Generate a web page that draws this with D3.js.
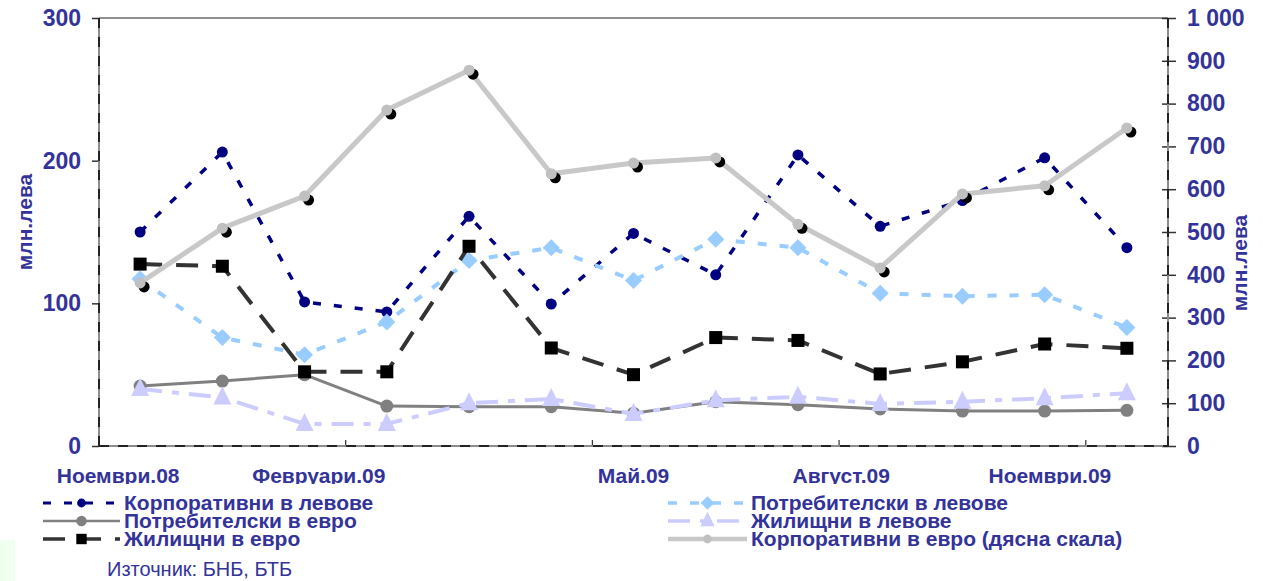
<!DOCTYPE html>
<html><head><meta charset="utf-8">
<script src="https://cdn.jsdelivr.net/npm/d3@7"></script>
<style>body{margin:0;background:#fff}svg{display:block}text{font-family:"Liberation Sans",Arial,sans-serif}</style>
</head><body><svg id="c" width="1263" height="581"></svg>
<script>
const categories = ["Ноември.08","Декември.08","Януари.09","Февруари.09","Март.09","Април.09","Май.09","Юни.09","Юли.09","Август.09","Септември.09","Октомври.09","Ноември.09"];
const tickLabels = ["Ноември.08","Февруари.09","Май.09","Август.09","Ноември.09"];
const leftTicks = [0,100,200,300];
const rightTicks = [0,100,200,300,400,500,600,700,800,900,1000];
const korpLevove = [150,206,101,94,161,99.5,149,120,204,154,172,202,139];
const potrLevove = [117,76,64,87,130,139,116,145,139,107,105,106,83];
const potrEvro   = [42,45.5,50,28,27.5,27.5,23,31,29,26,24.5,24.5,25];
const zhilLevove = [40,34,15.5,15.5,30,33,22.5,32,34.5,29.5,31,33.5,37];
const zhilEvro   = [127.5,126,52,52,140,68.7,50,76,74,50.5,59,71.5,68.5];
const korpEvro   = [381,509,584,785,878,636,661,673,518,416,589,608,743];
const seriesNames = ["Корпоративни в левове","Потребителски в левове","Потребителски в евро","Жилищни в левове","Жилищни в евро","Корпоративни в евро (дясна скала)"];
const axisTitle = "млн.лева";
const sourceText = "Източник: БНБ, БТБ";

const svg = d3.select("#c");
const L = 99, R = 1168, T = 18, B = 446;
const TXT = "#333399";
const x = d3.scaleBand().domain(categories).range([L, R]);
const cx = c => x(c) + x.bandwidth()/2;
const yL = d3.scaleLinear().domain([0,300]).range([B,T]);
const yR = d3.scaleLinear().domain([0,1000]).range([B,T]);

svg.append("rect").attr("x",0).attr("y",540).attr("width",15).attr("height",41).attr("fill","#f0fff0");

// frame
svg.append("line").attr("x1",L).attr("x2",R).attr("y1",T).attr("y2",T).attr("stroke","#909090").attr("stroke-width",2);
function axisLine(x1,y1,x2,y2){
  svg.append("line").attr("x1",x1).attr("x2",x2).attr("y1",y1).attr("y2",y2).attr("stroke","#8c8c8c").attr("stroke-width",2);
  svg.append("line").attr("x1",x1).attr("x2",x2).attr("y1",y1).attr("y2",y2).attr("stroke","#000").attr("stroke-width",1.5).attr("stroke-dasharray","10,9");
}

// left axis
const ga = svg.append("g").attr("transform",`translate(${L},0)`)
  .call(d3.axisLeft(yL).tickValues(leftTicks).tickSize(7).tickPadding(11));
ga.select(".domain").remove();
ga.selectAll("line").attr("stroke","#333").attr("stroke-width",1.5);
ga.selectAll("text").attr("fill",TXT).attr("font-size",23).attr("font-weight","bold");

// right axis
const loc = d3.formatLocale({decimal:",",thousands:" ",grouping:[3],currency:["",""]});
const gr = svg.append("g").attr("transform",`translate(${R},0)`)
  .call(d3.axisRight(yR).tickValues(rightTicks).tickFormat(loc.format(",d")).tickSize(8).tickPadding(11));
gr.select(".domain").remove();
gr.selectAll("line").attr("x1",-6).attr("stroke","#333").attr("stroke-width",1.5);
gr.selectAll("text").attr("fill",TXT).attr("font-size",23).attr("font-weight","bold");

// bottom axis ticks (every 3 categories at boundaries)
const gb = svg.append("g");
[3,6,9,12].forEach(i=>{
  const xx = x(categories[i]);
  gb.append("line").attr("x1",xx).attr("x2",xx).attr("y1",B-6).attr("y2",B).attr("stroke","#333").attr("stroke-width",1.2);
});
axisLine(L,T,L,B);
axisLine(R,T,R,B);
axisLine(L,B,R,B);

// x labels (clipped at bottom like the original)
svg.append("clipPath").attr("id","xclip").append("rect").attr("x",0).attr("y",450).attr("width",1263).attr("height",34);
const nudge = [-22,-68,0,-39,-77];
const gx = svg.append("g").attr("clip-path","url(#xclip)");
tickLabels.forEach((t,i)=>{
  gx.append("text").attr("x",cx(categories[categories.indexOf(t)])+nudge[i]).attr("y",483)
    .attr("text-anchor","middle").attr("fill",TXT).attr("font-size",21).attr("font-weight","bold").text(t);
});

// axis titles
svg.append("text").attr("transform","translate(32,222) rotate(-90)").attr("text-anchor","middle")
  .attr("fill",TXT).attr("font-size",21).attr("font-weight","bold").text(axisTitle);
svg.append("text").attr("transform","translate(1247,263) rotate(-90)").attr("text-anchor","middle")
  .attr("fill",TXT).attr("font-size",21).attr("font-weight","bold").text(axisTitle);

// series definitions
const styles = [
  {data:korpLevove, y:yL, color:"#000080", w:3.5, dash:"8,13", marker:"circle", msize:5.5, mfill:"#000080"},
  {data:potrLevove, y:yL, color:"#99CCFF", w:4, dash:"9,13", marker:"diamond", msize:8.5, mfill:"#99CCFF"},
  {data:potrEvro,   y:yL, color:"#808080", w:3, dash:null, marker:"circle", msize:6.5, mfill:"#808080"},
  {data:zhilLevove, y:yL, color:"#CCCCFF", w:4, dash:"22,10,7,10", marker:"triangle", msize:9, mfill:"#CCCCFF"},
  {data:zhilEvro,   y:yL, color:"#333333", w:4, dash:"22,14", marker:"square", msize:6.5, mfill:"#000"},
  {data:korpEvro,   y:yR, color:"#C8C8C8", w:5, dash:null, marker:"circle", msize:5.5, mfill:"#C0C0C0", shadow:true}
];
function drawMarker(g, s, px, py){
  if (s.shadow) g.append("circle").attr("cx",px+4).attr("cy",py+4).attr("r",s.msize).attr("fill","#000");
  if (s.marker==="circle") g.append("circle").attr("cx",px).attr("cy",py).attr("r",s.msize).attr("fill",s.mfill);
  else if (s.marker==="square") g.append("rect").attr("x",px-s.msize).attr("y",py-s.msize).attr("width",2*s.msize).attr("height",2*s.msize).attr("fill",s.mfill);
  else if (s.marker==="diamond") g.append("path").attr("d",`M${px},${py-s.msize}L${px+s.msize},${py}L${px},${py+s.msize}L${px-s.msize},${py}Z`).attr("fill",s.mfill);
  else if (s.marker==="triangle") g.append("path").attr("d",`M${px},${py-s.msize-2}L${px+s.msize},${py+s.msize-2}L${px-s.msize},${py+s.msize-2}Z`).attr("fill",s.mfill);
}
const gp = svg.append("g");
styles.forEach(s=>{
  const g = gp.append("g");
  const line = d3.line().x((d,i)=>cx(categories[i])).y(d=>s.y(d));
  g.append("path").attr("d",line(s.data)).attr("fill","none").attr("stroke",s.color).attr("stroke-width",s.w)
    .attr("stroke-dasharray",s.dash).attr("stroke-linejoin","round");
  s.data.forEach((d,i)=>drawMarker(g,s,cx(categories[i]),s.y(d)));
});

// legend
const legPos = [[43,124,503],[668,751,503],[43,124,521],[668,751,521],[43,124,539],[668,751,539]];
const lg = svg.append("g");
styles.forEach((s,i)=>{
  const [sx,tx,yy] = legPos[i];
  const g = lg.append("g");
  g.append("line").attr("x1",sx).attr("x2",tx-4).attr("y1",yy).attr("y2",yy).attr("stroke",s.color).attr("stroke-width",s.w-0.5).attr("stroke-dasharray",s.dash);
  const ls = Object.assign({},s,{msize:s.msize*0.8,shadow:false});
  drawMarker(g, ls, (sx+tx-4)/2, yy);
  g.append("text").attr("x",tx).attr("y",yy+7).attr("fill",TXT).attr("font-size",21).attr("font-weight","bold").text(seriesNames[i]);
});
svg.append("text").attr("x",107).attr("y",576).attr("fill",TXT).attr("font-size",20).text(sourceText);
</script></body></html>
